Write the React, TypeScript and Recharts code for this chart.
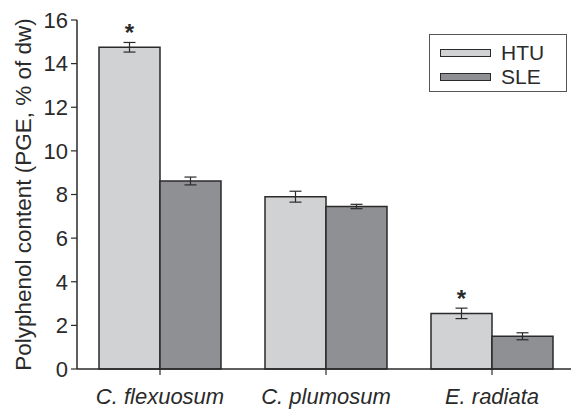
import { BarChart, Bar, XAxis, YAxis, ErrorBar, Legend, LabelList, Label } from 'recharts';

const species = ['C. flexuosum', 'C. plumosum', 'E. radiata'];
const htu = [14.75, 7.9, 2.55];
const htuErr = [0.22, 0.25, 0.24];
const sle = [8.62, 7.45, 1.5];
const sleErr = [0.18, 0.1, 0.16];
const htuSig = ['*', '', '*'];
const yTicks = [0, 2, 4, 6, 8, 10, 12, 14, 16];

const data = species.map((name, i) => ({
    name,
    HTU: htu[i],
    htuErr: htuErr[i],
    SLE: sle[i],
    sleErr: sleErr[i],
    sig: htuSig[i],
}));

const FONT = 'Liberation Sans, Arial, sans-serif';
const INK = '#2a2a2a';

const YLabel = ({ viewBox }: any) => {
    const cy = viewBox.y + viewBox.height / 2;
    return (
        <text x={23} y={cy} transform={`rotate(-90, 23, ${cy})`} textAnchor="middle" dominantBaseline="central"
            fontFamily={FONT} fontSize={22.5} fill={INK}>
            Polyphenol content (PGE, % of dw)
        </text>
    );
};

const ItalicTick = ({ x, y, payload }: any) => (
    <text x={x} y={y} dy="0.71em" textAnchor="middle" fontFamily={FONT} fontSize={22} fontStyle="italic" fill={INK}>
        {payload.value}
    </text>
);

// significance asterisk above HTU bars
const Star = ({ x, y, width, value }: any) =>
    value ? (
        <text x={x + width / 2} y={y - 6} textAnchor="middle" fontFamily={FONT} fontSize={24} fontWeight="bold" fill={INK}>
            {value}
        </text>
    ) : null;

const renderLegend = ({ payload }: any) => (
    <div style={{ border: '1px solid #555', width: 138, height: 58, background: '#fff', fontFamily: FONT, fontSize: 21, color: INK, paddingTop: 6, boxSizing: 'border-box' }}>
        {(payload || []).map((p: any) => (
            <div key={p.value} style={{ display: 'flex', alignItems: 'center', height: 24, paddingLeft: 10 }}>
                <span style={{ display: 'inline-block', width: 49, height: 6, background: p.color, border: `1px solid ${INK}`, marginRight: 10 }} />
                <span>{p.value}</span>
            </div>
        ))}
    </div>
);

const App = () => {
    return (
        <div style={{ position: 'absolute', left: 0, top: 0, width: 571, height: 409, overflow: 'hidden', background: '#fff' }}>
            <BarChart width={580} height={409} data={data} margin={{ top: 20, right: 5, bottom: 10, left: 0 }}
                barCategoryGap={22} barGap={0}>
                <XAxis dataKey="name" tick={<ItalicTick />} tickSize={6} tickMargin={13}
                    axisLine={{ stroke: INK, strokeWidth: 1.5 }} tickLine={{ stroke: INK, strokeWidth: 1.2 }} />
                <YAxis width={77} domain={[0, 16]} ticks={yTicks} interval={0} tickSize={6} tickMargin={3}
                    tick={{ fontFamily: FONT, fontSize: 22, fill: INK }}
                    axisLine={{ stroke: INK, strokeWidth: 1.5 }} tickLine={{ stroke: INK, strokeWidth: 1.2 }}>
                    <Label content={<YLabel />} />
                </YAxis>
                <Legend layout="vertical" align="center" verticalAlign="middle" content={renderLegend}
                    wrapperStyle={{ position: 'absolute', left: 429, top: 34, width: 138, height: 58 }} />
                <Bar dataKey="HTU" fill="#d1d2d4" stroke={INK} strokeWidth={1.5} isAnimationActive={false}>
                    <ErrorBar dataKey="htuErr" width={6} stroke={INK} strokeWidth={1.2} />
                    <LabelList dataKey="sig" content={<Star />} />
                </Bar>
                <Bar dataKey="SLE" fill="#8f9094" stroke={INK} strokeWidth={1.5} isAnimationActive={false}>
                    <ErrorBar dataKey="sleErr" width={6} stroke={INK} strokeWidth={1.2} />
                </Bar>
            </BarChart>
        </div>
    );
};

export default App;
